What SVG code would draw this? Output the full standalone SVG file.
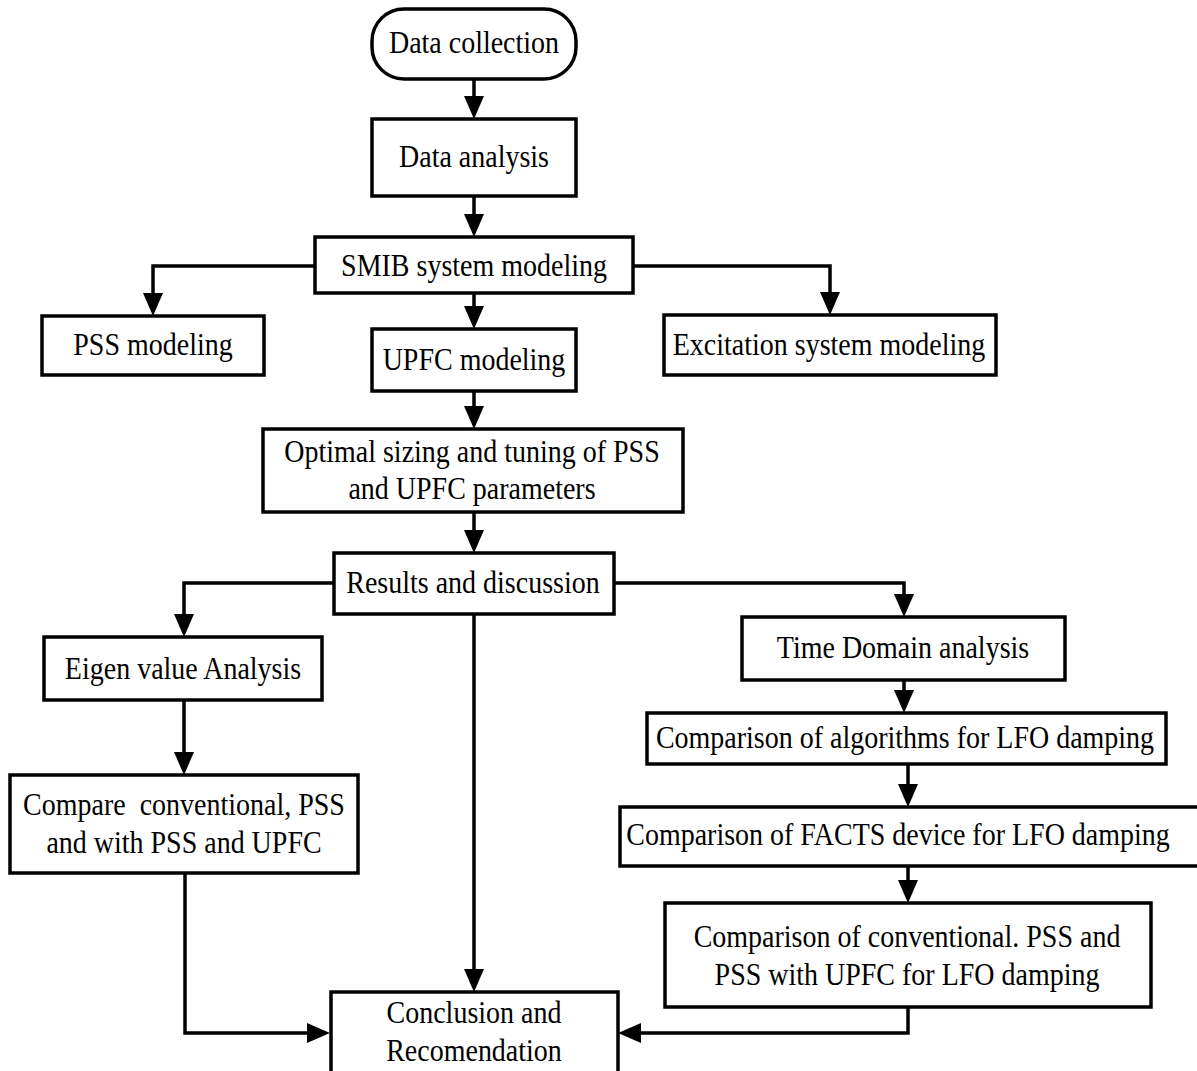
<svg xmlns="http://www.w3.org/2000/svg" width="1197" height="1071" viewBox="0 0 1197 1071">
<style>
.box{fill:#fff;stroke:#000;stroke-width:3.5}
.con{fill:none;stroke:#000;stroke-width:3.5;marker-end:url(#ah)}
text{font-family:"Liberation Serif","Times New Roman",serif;font-size:28px;fill:#000;text-anchor:middle}
</style>
<defs>
<marker id="ah" markerUnits="userSpaceOnUse" markerWidth="23" markerHeight="20" viewBox="0 0 23 20" refX="19" refY="10" orient="auto">
<path d="M0,0 L23,10 L0,20 Z" fill="#000"/>
</marker>
</defs>
<rect width="1197" height="1071" fill="#fff"/>
<g id="connectors">
<path class="con" d="M474,79 V115"/>
<path class="con" d="M474,196 V233"/>
<path class="con" d="M315,266 H153 V312"/>
<path class="con" d="M474,293 V325"/>
<path class="con" d="M633,266 H830 V311"/>
<path class="con" d="M474,391 V425"/>
<path class="con" d="M474,512 V549"/>
<path class="con" d="M334,583 H184 V633"/>
<path class="con" d="M614,583 H904 V613"/>
<path class="con" d="M184,700 V771"/>
<path class="con" d="M474,614 V988"/>
<path class="con" d="M185,873 V1033 H326"/>
<path class="con" d="M904,680 V709"/>
<path class="con" d="M908,764 V803"/>
<path class="con" d="M908,866 V899"/>
<path class="con" d="M908,1007 V1033 H622"/>
</g>
<g id="data-collection"><rect class="box" x="372" y="9" width="204" height="70" rx="32" ry="32"/><text transform="translate(474,53) scale(1,1.15)">Data collection</text></g>
<g id="data-analysis"><rect class="box" x="372" y="119" width="204" height="77"/><text transform="translate(474,167) scale(1,1.15)">Data analysis</text></g>
<g id="smib"><rect class="box" x="315" y="237" width="318" height="56"/><text transform="translate(474,276) scale(1,1.15)">SMIB system modeling</text></g>
<g id="pss"><rect class="box" x="42" y="316" width="222" height="59"/><text transform="translate(153,355) scale(1,1.15)">PSS modeling</text></g>
<g id="upfc"><rect class="box" x="372" y="329" width="204" height="62"/><text transform="translate(474,370) scale(1,1.15)">UPFC modeling</text></g>
<g id="excitation"><rect class="box" x="664" y="315" width="332" height="60"/><text transform="translate(829,355) scale(1,1.15)">Excitation system modeling</text></g>
<g id="optimal"><rect class="box" x="263" y="429" width="420" height="83"/><text transform="translate(472,462) scale(1,1.15)">Optimal sizing and tuning of PSS</text><text transform="translate(472,499) scale(1,1.15)">and UPFC parameters</text></g>
<g id="results"><rect class="box" x="334" y="553" width="280" height="61"/><text transform="translate(473,593) scale(1,1.15)">Results and discussion</text></g>
<g id="eigen"><rect class="box" x="44" y="637" width="278" height="63"/><text transform="translate(183,679) scale(1,1.15)">Eigen value Analysis</text></g>
<g id="compare"><rect class="box" x="10" y="775" width="348" height="98"/><text transform="translate(184,815) scale(1,1.15)" xml:space="preserve">Compare  conventional, PSS</text><text transform="translate(184,853) scale(1,1.15)">and with PSS and UPFC</text></g>
<g id="conclusion"><rect class="box" x="331" y="992" width="287" height="95"/><text transform="translate(474,1023) scale(1,1.15)">Conclusion and</text><text transform="translate(474,1061) scale(1,1.15)">Recomendation</text></g>
<g id="time-domain"><rect class="box" x="742" y="617" width="323" height="63"/><text transform="translate(903,658) scale(1,1.15)">Time Domain analysis</text></g>
<g id="algorithms"><rect class="box" x="647" y="713" width="519" height="51"/><text transform="translate(905,748) scale(1,1.15)">Comparison of algorithms for LFO damping</text></g>
<g id="facts"><rect class="box" x="620" y="807" width="582" height="59"/><text transform="translate(898,845) scale(1,1.15)">Comparison of FACTS device for LFO damping</text></g>
<g id="conventional"><rect class="box" x="665" y="903" width="486" height="104"/><text transform="translate(907,947) scale(1,1.15)">Comparison of conventional. PSS and</text><text transform="translate(907,985) scale(1,1.15)">PSS with UPFC for LFO damping</text></g>
</svg>
